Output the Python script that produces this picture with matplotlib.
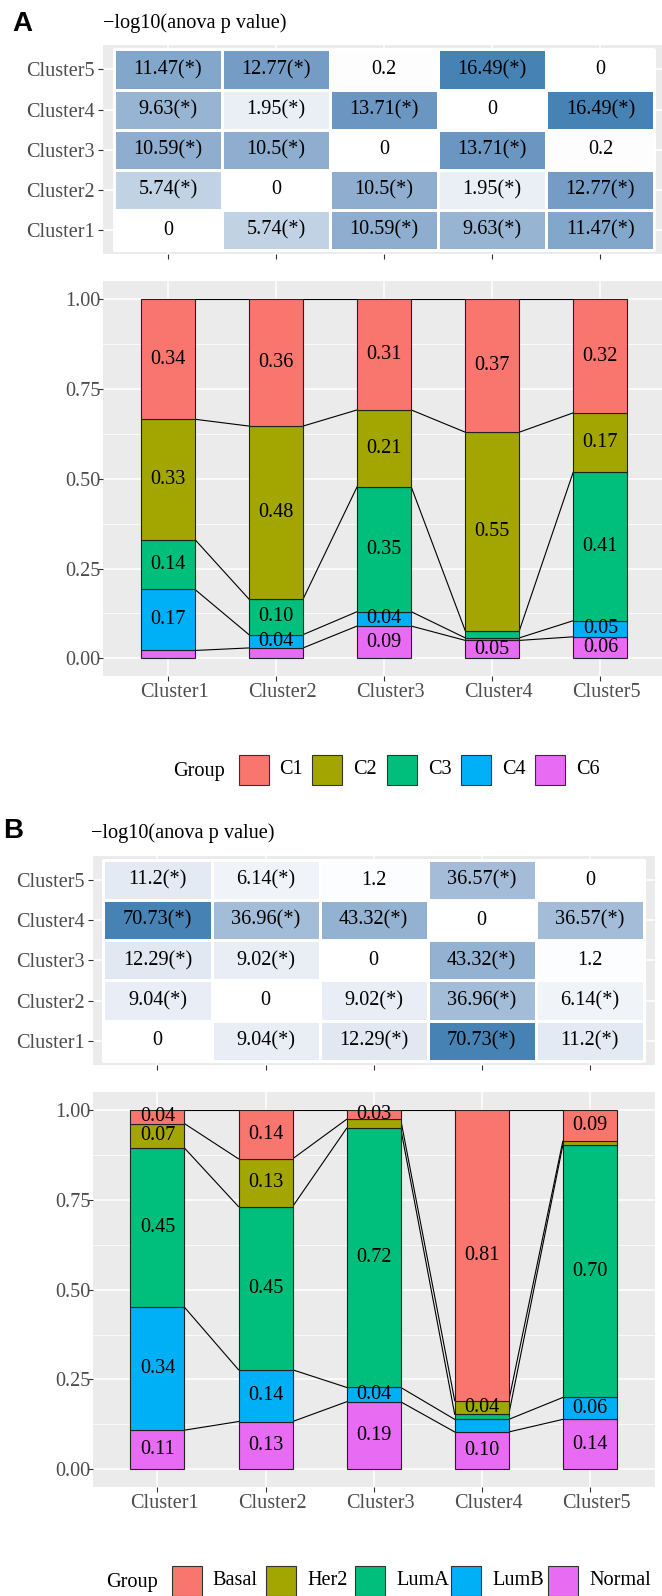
import numpy as np
import matplotlib
matplotlib.use('Agg')
import matplotlib.pyplot as plt
from matplotlib.colors import ListedColormap, to_rgb
from matplotlib.patches import Rectangle
from matplotlib.transforms import ScaledTranslation

W, H = 662, 1596

clusters = ['Cluster1', 'Cluster2', 'Cluster3', 'Cluster4', 'Cluster5']

# -log10(anova p) for pairs (1,2),(1,3),(1,4),(1,5),(2,3),(2,4),(2,5),(3,4),(3,5),(4,5)
anova_a = [5.74, 10.59, 9.63, 11.47, 10.5, 1.95, 12.77, 13.71, 0.2, 16.49]
anova_b = [9.04, 12.29, 70.73, 11.2, 9.02, 36.96, 6.14, 43.32, 1.2, 36.57]

# panel A proportions (top of stack first)
groups_a = ['C1', 'C2', 'C3', 'C4', 'C6']
c1 = [0.334, 0.353, 0.308, 0.370, 0.316]
c2 = [0.335, 0.482, 0.214, 0.553, 0.164]
c3 = [0.139, 0.099, 0.348, 0.020, 0.415]
c4 = [0.170, 0.037, 0.040, 0.007, 0.045]
c6 = [0.022, 0.029, 0.090, 0.050, 0.060]
lab_c1 = ['0.34', '0.36', '0.31', '0.37', '0.32']
lab_c2 = ['0.33', '0.48', '0.21', '0.55', '0.17']
lab_c3 = ['0.14', '0.10', '0.35', '', '0.41']
lab_c4 = ['0.17', '0.04', '0.04', '', '0.05']
lab_c6 = ['', '', '0.09', '0.05', '0.06']

# panel B proportions
groups_b = ['Basal', 'Her2', 'LumA', 'LumB', 'Normal']
basal = [0.038, 0.136, 0.026, 0.809, 0.087]
her2 = [0.068, 0.133, 0.025, 0.038, 0.011]
luma = [0.443, 0.454, 0.721, 0.014, 0.702]
lumb = [0.342, 0.144, 0.040, 0.035, 0.061]
normal = [0.109, 0.133, 0.188, 0.104, 0.139]
lab_basal = ['0.04', '0.14', '0.03', '0.81', '0.09']
lab_her2 = ['0.07', '0.13', '', '0.04', '']
lab_luma = ['0.45', '0.45', '0.72', '', '0.70']
lab_lumb = ['0.34', '0.14', '0.04', '', '0.06']
lab_normal = ['0.11', '0.13', '0.19', '0.10', '0.14']

hue5 = ['#F8766D', '#A3A500', '#00BF7D', '#00B0F6', '#E76BF3']

SERIF = 'Liberation Serif'
GREY30 = '#4D4D4D'
FS = 14.6

M = np.array([[0.4124, 0.3576, 0.1805], [0.2126, 0.7152, 0.0722], [0.0193, 0.1192, 0.9505]])
WP = np.array([0.95047, 1.0, 1.08883])


def srgb_to_lab(c):
    c = np.asarray(c, float)
    lin = np.where(c <= 0.04045, c / 12.92, ((c + 0.055) / 1.055) ** 2.4)
    xyz = M @ lin / WP
    f = np.where(xyz > 0.008856, np.cbrt(xyz), 7.787 * xyz + 16 / 116)
    return np.array([116 * f[1] - 16, 500 * (f[0] - f[1]), 200 * (f[1] - f[2])])


def lab_to_srgb(lab):
    L, a, b = lab
    fy = (L + 16) / 116
    f = np.array([fy + a / 500, fy, fy - b / 200])
    xyz = np.where(f > 0.2069, f ** 3, (f - 16 / 116) / 7.787) * WP
    lin = np.clip(np.linalg.inv(M) @ xyz, 0, None)
    c = np.where(lin <= 0.0031308, 12.92 * lin, 1.055 * lin ** (1 / 2.4) - 0.055)
    return np.clip(c, 0, 1)


# ggplot-like white -> steelblue gradient, interpolated in Lab
lo, hi = srgb_to_lab(to_rgb('white')), srgb_to_lab(to_rgb('steelblue'))
cmap = ListedColormap([lab_to_srgb(lo + t * (hi - lo)) for t in np.linspace(0, 1, 256)])


def px_axes(fig, left, top, right, bottom):
    return fig.add_axes([left / W, 1 - bottom / H, (right - left) / W, (bottom - top) / H])


def style(ax):
    ax.set_facecolor('#EBEBEB')
    for s in ax.spines.values():
        s.set_visible(False)
    ax.tick_params(colors='#333333', labelcolor=GREY30, labelsize=FS, length=3.6, width=0.8)
    for t in ax.get_xticklabels() + ax.get_yticklabels():
        t.set_fontfamily(SERIF)


def heat_panel(ax, pair_vals):
    m = np.zeros((5, 5))
    m[np.triu_indices(5, 1)] = pair_vals
    m = m + m.T
    ax.set_axisbelow(True)
    ax.grid(color='white', lw=1.1)
    edges = np.arange(0.5, 6)
    ax.pcolormesh(edges, edges, m, cmap=cmap, vmin=0, vmax=m.max(),
                  edgecolors='white', linewidth=1.0, zorder=2)
    for i in range(5):
        for j in range(5):
            v = m[i, j]
            txt = f'{v:g}' + ('(*)' if v > -np.log10(0.05) else '')
            ax.text(j + 1, i + 1, txt, ha='center', va='center', fontsize=FS,
                    family=SERIF, color='black', zorder=3)
    ax.set_xlim(0.4, 5.6)
    ax.set_ylim(0.4, 5.6)
    ax.set_xticks(range(1, 6))
    ax.set_yticks(range(1, 6))
    ax.set_yticklabels(clusters)
    style(ax)
    ax.tick_params(axis='x', labelbottom=False)
    ax.tick_params(axis='y', pad=2)


def stack_panel(ax, series, labels, colors):
    x = np.arange(1, 6)
    bottom = np.zeros(5)
    levels = []
    for vals, labs, col in reversed(list(zip(series, labels, colors))):
        vals = np.asarray(vals)
        ax.bar(x, vals, 0.5, bottom=bottom, color=col, edgecolor='#222222',
               linewidth=0.8, zorder=3)
        for xi, b, v, t in zip(x, bottom, vals, labs):
            if t:
                ax.text(xi, b + v / 2, t, ha='center', va='center', fontsize=FS,
                        family=SERIF, color='black', zorder=4)
        bottom = bottom + vals
        levels.append(bottom.copy())
    # connect the stack boundaries of neighbouring bars
    for lev in levels:
        for i in range(4):
            ax.plot([x[i] + 0.25, x[i + 1] - 0.25], [lev[i], lev[i + 1]],
                    color='black', lw=0.8, zorder=2)
    ax.set_xlim(0.4, 5.6)
    ax.set_ylim(-0.05, 1.05)
    ax.set_xticks(x)
    ax.set_xticklabels(clusters)
    ax.set_yticks([0, 0.25, 0.5, 0.75, 1.0])
    ax.set_yticklabels(['0.00', '0.25', '0.50', '0.75', '1.00'])
    ax.set_yticks([0.125, 0.375, 0.625, 0.875], minor=True)
    ax.set_axisbelow(True)
    ax.grid(which='major', color='white', lw=1.1)
    ax.grid(which='minor', axis='y', color='white', lw=0.55)
    style(ax)
    ax.tick_params(which='minor', length=0)
    ax.tick_params(axis='y', pad=-2)
    ax.tick_params(axis='x', pad=1)
    shift = ScaledTranslation(0.065, 0, ax.figure.dpi_scale_trans)
    for t in ax.get_xticklabels():
        t.set_transform(t.get_transform() + shift)


def legend_row(fig, groups, colors, key_x, y):
    # horizontal legend with the title on the left, like ggplot's bottom legend
    ky = 1 - (y + 15) / H
    for name, col, kx in zip(groups, colors, key_x):
        fig.patches.append(Rectangle((kx / W, ky), 30 / W, 30 / H, transform=fig.transFigure,
                                     facecolor=col, edgecolor='#333333', linewidth=0.8))
        fig.text((kx + 41) / W, 1 - y / H, name, ha='left', va='center',
                 fontsize=FS, family=SERIF, color='black')
    fig.text((key_x[0] - 14) / W, 1 - (y + 2) / H, 'Group', ha='right', va='center',
             fontsize=FS, family=SERIF, color='black')


def main():
    fig = plt.figure(figsize=(W / 100, H / 100), dpi=100)

    # panel A
    fig.text(12 / W, 1 - 24 / H, 'A', ha='left', va='center', fontsize=20,
             fontweight='bold', family='Liberation Sans')
    fig.text(103 / W, 1 - 23 / H, '\u2212log10(anova p value)', ha='left', va='center',
             fontsize=FS, family=SERIF)
    ax = px_axes(fig, 103, 45.3, 665.3, 254.3)
    heat_panel(ax, anova_a)
    ax = px_axes(fig, 103, 281.4, 665.3, 676.3)
    stack_panel(ax, [c1, c2, c3, c4, c6],
                [lab_c1, lab_c2, lab_c3, lab_c4, lab_c6], hue5)
    legend_row(fig, groups_a, hue5, [238.5, 312.4, 387, 461, 535], 770)

    # panel B
    fig.text(3 / W, 1 - 831 / H, 'B', ha='left', va='center', fontsize=20,
             fontweight='bold', family='Liberation Sans')
    fig.text(91 / W, 1 - 833 / H, '\u2212log10(anova p value)', ha='left', va='center',
             fontsize=FS, family=SERIF)
    ax = px_axes(fig, 92.6, 855.9, 654.7, 1064.9)
    heat_panel(ax, anova_b)
    ax = px_axes(fig, 92.6, 1092.0, 654.7, 1487.3)
    stack_panel(ax, [basal, her2, luma, lumb, normal],
                [lab_basal, lab_her2, lab_luma, lab_lumb, lab_normal], hue5)
    legend_row(fig, groups_b, hue5, [171.8, 266, 355.4, 451, 548], 1580.7)

    fig.savefig('out.png', dpi=100)
    plt.close(fig)


if __name__ == '__main__':
    main()
